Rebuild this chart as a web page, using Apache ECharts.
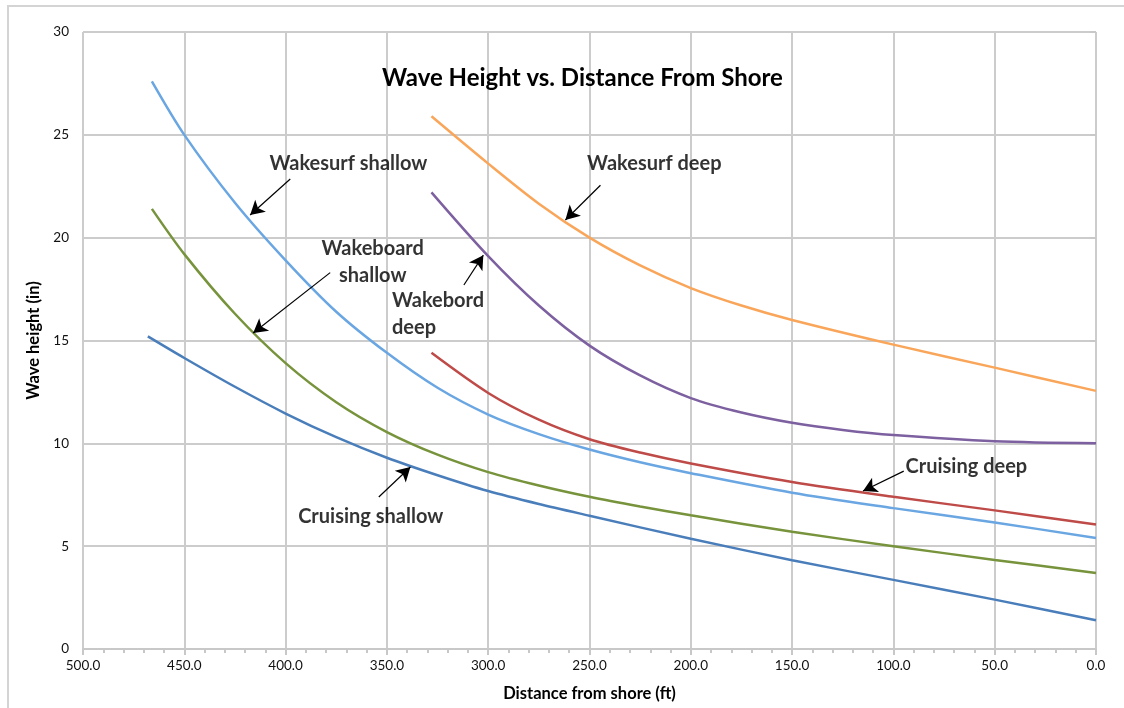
<!DOCTYPE html>
<html>
<head>
<meta charset="utf-8">
<script src="https://cdn.jsdelivr.net/npm/echarts@6/dist/echarts.min.js"></script>
<style>
html,body{margin:0;padding:0;background:#fff;}
#chart{width:1124px;height:708px;}
</style>
</head>
<body>
<div id="chart"></div>
<script>
// ---- Data (distance from shore in ft, wave height in inches) ----
const wakesurfShallow = [[466,27.6],[450,25.0],[425,21.7],[400,18.9],[375,16.4],[350,14.4],[325,12.7],[300,11.4],[275,10.45],[250,9.7],[225,9.08],[200,8.55],[150,7.6],[100,6.85],[50,6.15],[0,5.4]];
const wakeboardShallow = [[466,21.4],[450,19.2],[425,16.3],[400,13.9],[375,12.0],[350,10.55],[325,9.45],[300,8.6],[275,7.95],[250,7.4],[225,6.93],[200,6.5],[150,5.7],[100,5.0],[50,4.33],[0,3.7]];
const cruisingShallow = [[468,15.2],[450,14.15],[425,12.75],[400,11.45],[375,10.3],[350,9.3],[325,8.45],[300,7.68],[275,7.05],[250,6.48],[200,5.36],[150,4.32],[100,3.36],[50,2.4],[0,1.4]];
const wakesurfDeep = [[328,25.9],[300,23.6],[275,21.65],[250,20.0],[225,18.65],[200,17.55],[175,16.7],[150,16.0],[100,14.8],[50,13.68],[0,12.55]];
const wakebordDeep = [[328,22.2],[300,19.1],[275,16.7],[250,14.75],[225,13.3],[200,12.2],[175,11.5],[150,11.0],[125,10.65],[100,10.4],[50,10.1],[0,10.0]];
const cruisingDeep = [[328,14.4],[300,12.45],[275,11.15],[250,10.2],[225,9.55],[200,9.02],[150,8.12],[100,7.4],[50,6.74],[0,6.05]];

const seriesNames = ['Wakesurf shallow','Wakeboard shallow','Cruising shallow','Wakesurf deep','Wakebord deep','Cruising deep'];
const seriesData = [wakesurfShallow, wakeboardShallow, cruisingShallow, wakesurfDeep, wakebordDeep, cruisingDeep];
const seriesColors = ['#6AA6E2','#77933C','#4A7EBB','#F9A65A','#7D60A0','#BE4B48'];

// Annotation text (label anchor in data coordinates) and arrows (from -> to)
const annotationTexts = ['Wakesurf shallow','Wakeboard\nshallow','Wakebord\ndeep','Wakesurf deep','Cruising deep','Cruising shallow'];
const annotationAnchors = [[369,23.6],[357,18.8],[347.5,16.3],[218,23.6],[94,8.85],[358,6.42]];
const annotationAlign = ['center','center','left','center','left','center'];
const arrowFrom = [[397.7,22.85],[378,18.3],[312,17.7],[244.6,22.55],[94.9,8.65],[354,7.39]];
const arrowTo = [[417.5,21.1],[416,15.36],[302.4,19.15],[261.9,20.86],[115,7.68],[338.4,8.85]];

const xTickMin = 0, xTickMax = 500, xTickStep = 50;
const yTickMin = 0, yTickMax = 30, yTickStep = 5;

const FONT = 'Lato, "Open Sans", sans-serif';
const chart = echarts.init(document.getElementById('chart'));

const lineSeries = seriesNames.map((n, i) => ({
  name: n,
  type: 'line',
  data: seriesData[i],
  smooth: 0.3,
  showSymbol: false,
  symbol: 'none',
  lineStyle: { color: seriesColors[i], width: 2.5 },
  z: 3
}));

const labelSeries = {
  type: 'scatter',
  symbolSize: 0,
  silent: true,
  z: 5,
  data: annotationTexts.map((t, i) => ({
    value: annotationAnchors[i],
    label: {
      show: true,
      position: 'inside',
      formatter: t,
      align: annotationAlign[i],
      verticalAlign: 'middle',
      fontFamily: FONT,
      fontWeight: 'bold',
      fontSize: 20,
      lineHeight: 27,
      color: '#000'
    }
  }))
};

const arrowSeries = {
  type: 'line',
  data: [],
  silent: true,
  markLine: {
    silent: true,
    symbol: ['none', 'arrow'],
    symbolSize: [12, 14],
    label: { show: false },
    lineStyle: { color: '#000', width: 1.2, type: 'solid' },
    data: arrowFrom.map((f, i) => [{ coord: f }, { coord: arrowTo[i] }])
  },
  z: 4
};

chart.setOption({
  animation: false,
  backgroundColor: '#fff',
  graphic: [{
    type: 'rect',
    shape: { x: 8, y: 6, width: 1140, height: 740 },
    style: { fill: 'none', stroke: '#d4d4d4', lineWidth: 2 },
    silent: true
  }],
  title: {
    text: 'Wave Height vs. Distance From Shore',
    left: 377,
    top: 61,
    textStyle: { fontFamily: FONT, fontWeight: 'bold', fontSize: 24, color: '#000' }
  },
  grid: { left: 83, right: 28, top: 32, bottom: 59, containLabel: false },
  xAxis: {
    type: 'value',
    inverse: true,
    min: xTickMin, max: xTickMax, interval: xTickStep,
    name: 'Distance from shore (ft)',
    nameLocation: 'middle',
    nameGap: 36,
    nameTextStyle: { fontFamily: FONT, fontWeight: 'bold', fontSize: 16.5, color: '#000' },
    axisLine: { show: true, lineStyle: { color: '#c8c8c8', width: 2 } },
    axisTick: { show: true, length: 6, lineStyle: { color: '#c8c8c8', width: 2 } },
    minorTick: { show: true, splitNumber: 5, length: 4, lineStyle: { color: '#c8c8c8', width: 2 } },
    axisLabel: { formatter: v => v.toFixed(1), fontFamily: FONT, fontSize: 13.5, color: '#111', margin: 10 },
    splitLine: { show: true, lineStyle: { color: '#cccccc', width: 2 } }
  },
  yAxis: {
    type: 'value',
    min: yTickMin, max: yTickMax, interval: yTickStep,
    name: 'Wave height (in)',
    nameLocation: 'middle',
    nameGap: 40,
    nameRotate: 90,
    nameTextStyle: { fontFamily: FONT, fontWeight: 'bold', fontSize: 16.5, color: '#000' },
    axisLine: { show: false },
    axisTick: { show: true, length: 6, lineStyle: { color: '#c8c8c8', width: 2 } },
    axisLabel: { fontFamily: FONT, fontSize: 13.5, color: '#111', margin: 14 },
    splitLine: { show: true, lineStyle: { color: '#cccccc', width: 2 } }
  },
  series: [...lineSeries, arrowSeries, labelSeries]
});
</script>
</body>
</html>
